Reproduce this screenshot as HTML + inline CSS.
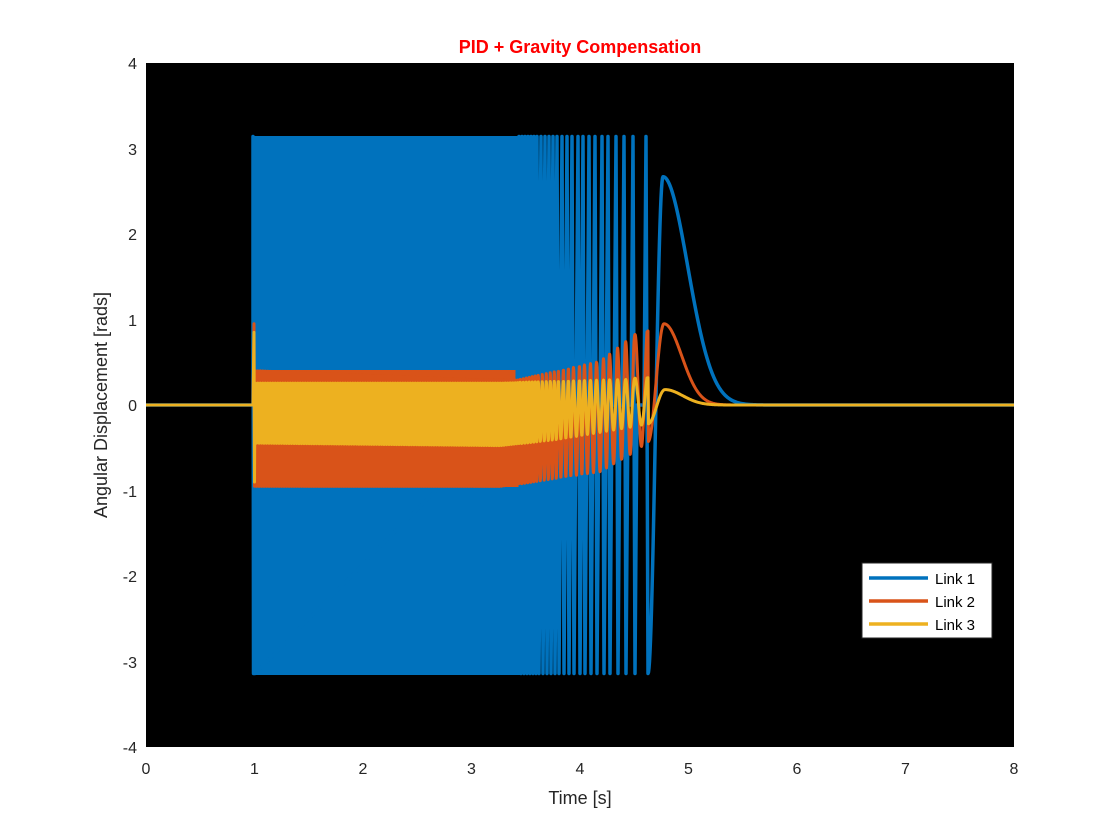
<!DOCTYPE html>
<html><head><style>
body{margin:0;background:#fff;}
svg{display:block;font-family:"Liberation Sans",sans-serif;}
</style></head><body>
<svg id="s" width="1120" height="840" viewBox="0 0 1120 840" xmlns="http://www.w3.org/2000/svg">
<rect x="0" y="0" width="1120" height="840" fill="#fff"/>
<rect x="146" y="63" width="868" height="684" fill="#000"/>
<rect x="253" y="136" width="269" height="539" fill="#0072BD"/>
<rect x="254" y="370" width="266" height="117" fill="#D95319"/>
<rect x="254" y="383" width="266" height="61" fill="#EDB120"/>
<g id="plot"></g>
<text x="580" y="53" text-anchor="middle" font-size="18" font-weight="bold" fill="#ff0000">PID + Gravity Compensation</text>
<g font-size="16" fill="#262626" text-anchor="middle">
<text x="146" y="774">0</text><text x="254.5" y="774">1</text><text x="363" y="774">2</text><text x="471.5" y="774">3</text><text x="580" y="774">4</text><text x="688.5" y="774">5</text><text x="797" y="774">6</text><text x="905.5" y="774">7</text><text x="1014" y="774">8</text>
</g>
<g font-size="16" fill="#262626" text-anchor="end">
<text x="137" y="69">4</text><text x="137" y="155">3</text><text x="137" y="240">2</text><text x="137" y="326">1</text><text x="137" y="411">0</text><text x="137" y="497">-1</text><text x="137" y="582">-2</text><text x="137" y="668">-3</text><text x="137" y="753">-4</text>
</g>
<text x="580" y="804" text-anchor="middle" font-size="18" fill="#262626">Time [s]</text>
<text transform="translate(107,405) rotate(-90)" text-anchor="middle" font-size="18" fill="#262626">Angular Displacement [rads]</text>
<rect x="862" y="563" width="130" height="75" fill="#fff" stroke="#262626" stroke-width="1"/>
<line x1="869" y1="578" x2="928" y2="578" stroke="#0072BD" stroke-width="3.5"/>
<line x1="869" y1="601" x2="928" y2="601" stroke="#D95319" stroke-width="3.5"/>
<line x1="869" y1="624" x2="928" y2="624" stroke="#EDB120" stroke-width="3.5"/>
<g font-size="15" fill="#000"><text x="935" y="584">Link 1</text><text x="935" y="607">Link 2</text><text x="935" y="630">Link 3</text></g>
</svg>
<script>
(function(){
var Y=function(v){return 405-85.5*v;};
function interp(pts,x){if(x<=pts[0][0])return pts[0][1];for(var i=1;i<pts.length;i++){if(x<=pts[i][0]){var a=pts[i-1],b=pts[i];return a[1]+(b[1]-a[1])*(x-a[0])/(b[0]-a[0]);}}return pts[pts.length-1][1];}
var P=[520,523,526,529,532,535,538,542,546,550,554,558,563,568,573,579,584,590,596,603,609,617,625,634,647];
var env={
o:{u:[[254,0.41],[480,0.3],[520,0.3],[600,0.51],[630,0.78],[648,0.94]],l:[[254,-0.96],[500,-0.96],[600,-0.78],[630,-0.58],[648,-0.43]]},
y:{u:[[254,0.26],[500,0.26],[630,0.3],[648,0.35]],l:[[254,-0.45],[500,-0.48],[560,-0.4],[630,-0.26],[648,-0.22]]}
};
function phase(x){
 if(x<520){return 2*Math.PI*(x-520)/2.5;}
 for(var i=1;i<P.length;i++){if(x<=P[i]){return 2*Math.PI*((i-1)+(x-P[i-1])/(P[i]-P[i-1]));}}
 return 2*Math.PI*(P.length-1);
}
var tails={
b:{s:648,m:-3.14,pk:663,pv:2.67,sd:35},
o:{s:648,m:-0.43,pk:664,pv:0.95,sd:25},
y:{s:648,m:-0.22,pk:665,pv:0.18,sd:25}
};
var spikes={b:[3.14,-3.14],o:[0.95,-0.95],y:[0.85,-0.9]};
var cols={b:"#0072BD",o:"#D95319",y:"#EDB120"};
var out="";
function tail(k,pts){var t=tails[k];for(var x=648.5;x<=1014;x+=0.5){var v;if(x<=t.pk){v=t.m+(t.pv-t.m)*(1-Math.cos(Math.PI*(x-t.s)/(t.pk-t.s)))/2;}else{v=t.pv*Math.exp(-Math.pow((x-t.pk)/t.sd,2));}pts.push(x.toFixed(2)+","+Y(v).toFixed(2));}}
/* blue */
var pb=["146,"+Y(0),"253,"+Y(0),"253,"+Y(3.14),"253.5,"+Y(-3.14),"255,"+Y(-3.14)];
pb.push("520,"+Y(0));
for(var i=0;i<P.length;i++){var x=P[i];
 if(i<P.length-1){pb.push((x-3)+","+Y(0),(x-1)+","+Y(3.14),(x+1)+","+Y(-3.14),(x+3)+","+Y(0));}
 else{pb.push((x-3)+","+Y(0),(x-1)+","+Y(3.14),(x+1)+","+Y(-3.14),"648,"+Y(-3.14));}
}
tail("b",pb);
out+='<polyline fill="none" stroke="'+cols.b+'" stroke-width="3.5" stroke-linejoin="round" points="'+pb.join(" ")+'"/>';
["o","y"].forEach(function(k){
var pts=["146,"+Y(0),"253,"+Y(0),"254,"+Y(spikes[k][0]),"254.5,"+Y(spikes[k][1])];
for(var x=255;x<=648.001;x+=0.25){var u=interp(env[k].u,x),l=interp(env[k].l,x);var v=(u+l)/2+(u-l)/2*Math.cos(phase(x)-Math.PI*0.15);pts.push(x.toFixed(2)+","+Y(v).toFixed(2));}
tail(k,pts);
out+='<polyline fill="none" stroke="'+cols[k]+'" stroke-width="3" stroke-linejoin="round" points="'+pts.join(" ")+'"/>';
});
document.getElementById("plot").innerHTML=out;
})();
</script>
</body></html>
